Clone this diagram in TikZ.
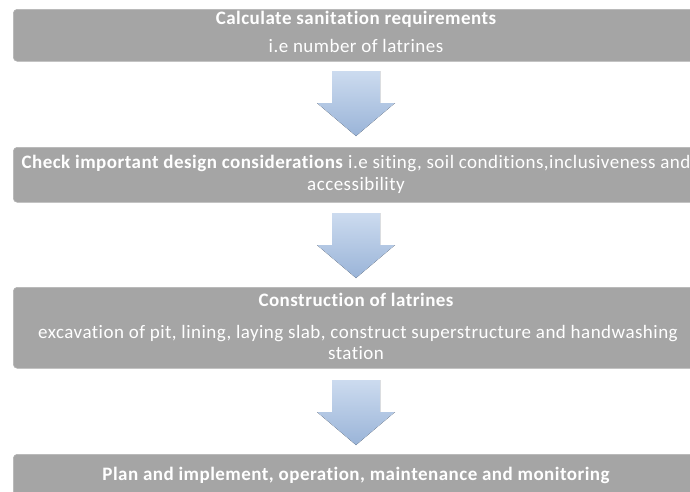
\documentclass[tikz,border=0pt]{standalone}
\usepackage{fontspec}
\setmainfont{Carlito}[RawFeature={-liga}, LetterSpace=2.5]
\definecolor{stagegray}{HTML}{A5A5A5}
\definecolor{stageedge}{HTML}{B4B4B4}
\definecolor{arrowtop}{HTML}{CCDBEF}
\definecolor{arrowbot}{HTML}{9AB4D8}
\begin{document}
\begin{tikzpicture}[x=1pt,y=-1pt,
  stage/.style={fill=stagegray, draw=stageedge, line width=0.6pt, rounded corners=4pt,
    anchor=north west, minimum width=686pt, inner sep=0pt},
  label/.style={text=white, anchor=base, inner sep=0pt, font=\fontsize{19}{23}\selectfont},
  heading/.style={label, font=\fontsize{19}{23}\selectfont\bfseries},
  flow/.style={top color=arrowtop, bottom color=arrowbot, draw=none},
  pics/flowarrow/.style={code={
    \fill[flow] (-24,0) -- (24,0) -- (24,32) -- (39,32) -- (0,65) -- (-39,32) -- (-24,32) -- cycle;}}]
\useasboundingbox (0,0) rectangle (690,491);
\begin{scope}
\clip (0,0) rectangle (690,491);
% process stages
\node[stage, minimum height=52pt] (s1) at (13,9) {};
\node[stage, minimum height=55pt] (s2) at (13,147) {};
\node[stage, minimum height=81pt] (s3) at (13,287) {};
\node[stage, minimum height=66pt] (s4) at (13,454) {};
\end{scope}
% stage texts
\node[heading] (t1a) at (356,24) {Calculate sanitation requirements};
\node[label] (t1b) at (356,52) {i.e number of latrines};
\node[label] (t2a) at (356,168) {\textbf{Check important design considerations} i.e siting, soil conditions,inclusiveness and};
\node[label] (t2b) at (356,190) {accessibility};
\node[heading] (t3a) at (356,306) {Construction of latrines};
\node[label] (t3b) at (358,338) {excavation of pit, lining, laying slab, construct superstructure and handwashing};
\node[label] (t3c) at (356,359) {station};
\node[heading] (t4a) at (356,480) {Plan and implement, operation, maintenance and monitoring};
% arrows between stages
\pic at (356,71) {flowarrow};
\pic at (356,213) {flowarrow};
\pic at (356,380) {flowarrow};
\end{tikzpicture}
\end{document}
